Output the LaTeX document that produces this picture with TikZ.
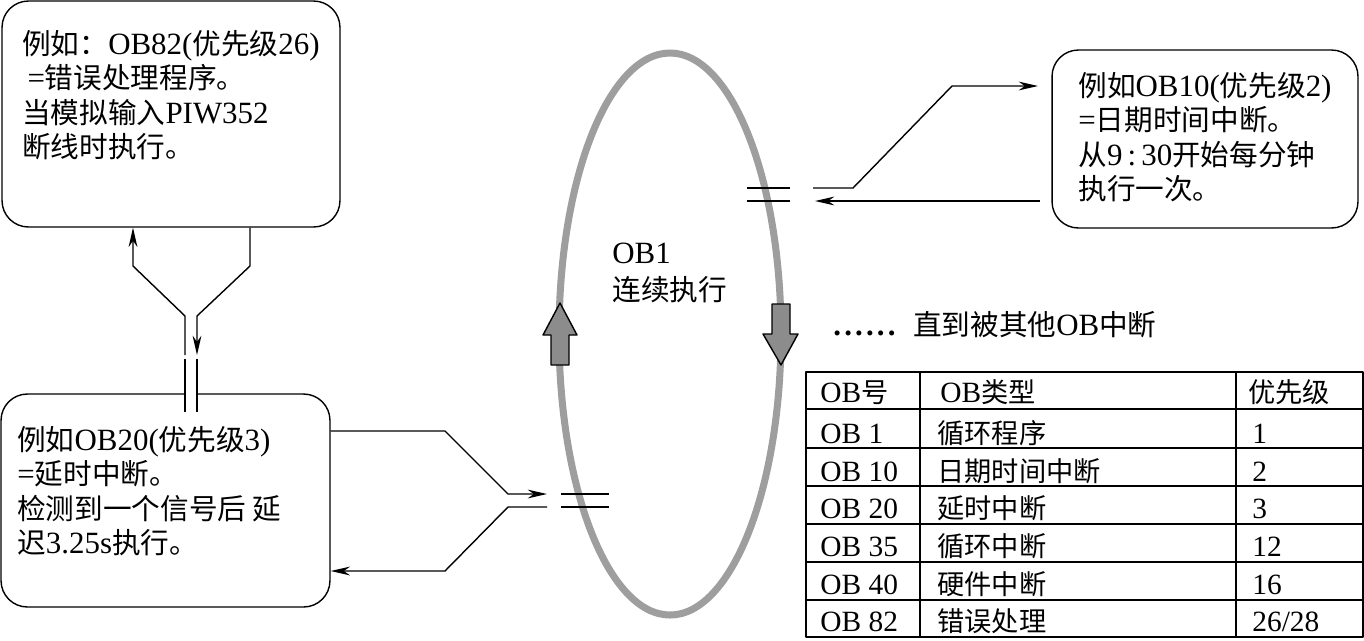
\documentclass[tikz,border=0pt]{standalone}
\usepackage{fontspec}
\setmainfont{Liberation Serif}[Scale=1.08]
\newfontfamily\cjk{Noto Sans CJK SC}
\usepackage{tikz}
\usetikzlibrary{calc, arrows.meta, positioning}
\definecolor{ringgray}{RGB}{158, 158, 158}
\definecolor{arrowgray}{RGB}{140, 140, 140}
\newcommand{\zh}[1]{{\cjk #1}}

\tikzset{
    obbox/.style={draw, line width=0.8pt, rounded corners=15pt, inner sep=0pt},
    obtext/.style={anchor=north west, inner sep=0pt, align=left, font=\fontsize{16.3pt}{19.6pt}\selectfont},
    lbl/.style={anchor=base west, inner sep=0pt, font=\fontsize{16.3pt}{19.6pt}\selectfont},
    tabtext/.style={anchor=base west, inner sep=0pt, font=\fontsize{15.5pt}{18pt}\selectfont},
    link/.style={line width=0.8pt}
}

\begin{document}
\begin{tikzpicture}[x=0.02cm, y=-0.02cm, line join=round, >={Stealth[length=11pt, width=5pt, inset=3.5pt]}]
    \useasboundingbox (0,0) rectangle (1364,640);

    % Ring OB1 (grau) mit den zwei Blockpfeilen
    \draw[ringgray, line width=4pt] (670,334) ellipse [x radius=111, y radius=281];
    \filldraw[fill=arrowgray, draw=black, line width=0.8pt]
        (560,303) -- (577,335) -- (569,335) -- (569,365) -- (551,365) -- (551,335) -- (543,335) -- cycle;
    \filldraw[fill=arrowgray, draw=black, line width=0.8pt]
        (781,365) -- (798,334) -- (790,334) -- (790,304) -- (772,304) -- (772,334) -- (763,334) -- cycle;
    \node[lbl] (obone) at (612,263) {OB1};
    \node[lbl] (oboneb) at (612,300) {\zh{连续执行}};
    \node[lbl] (until) at (833,335) {\textbf{.\kern1.8pt.\kern1.8pt.\kern1.8pt.\kern1.8pt.\kern1.8pt.}\hspace{10pt}\zh{直到被其他}OB\zh{中断}};

    % Kaesten
    \node[obbox, minimum width=6.76cm, minimum height=4.52cm] (ob82box) at (171,114) {};
    \node[obtext] (ob82txt) at (22,30) {\zh{例如：}OB82(\zh{优先级}26)\\\,=\zh{错误处理程序。}\\\zh{当模拟输入}PIW352\\\zh{断线时执行。}};

    \node[obbox, minimum width=6.58cm, minimum height=4.26cm] (ob20box) at (165.5,500.5) {};
    \node[obtext] (ob20txt) at (17,426) {\zh{例如}OB20(\zh{优先级}3)\\=\zh{延时中断。}\\\zh{检测到一个信号后 延}\\\zh{迟}3.25s\zh{执行。}};

    \node[obbox, minimum width=6.12cm, minimum height=3.56cm] (ob10box) at (1205,139) {};
    \node[obtext] (ob10txt) at (1078,72) {\zh{例如}OB10(\zh{优先级}2)\\=\zh{日期时间中断。}\\\zh{从}9\,:\,30\zh{开始每分钟}\\\zh{执行一次。}};

    % OB82 <-> OB20
    \coordinate (la) at (133,266);
    \coordinate (lb) at (185,316);
    \coordinate (lc) at (185,355);
    \coordinate (ra) at (250,266);
    \coordinate (rb) at (197,316);
    \coordinate (rc) at (197,355);
    \draw[link, ->] (lc) -- (lb) -- (la) -- (la |- ob82box.south);
    \draw[link, ->] (ra |- ob82box.south) -- (ra) -- (rb) -- (rc);
    \fill[white] (186,386) rectangle (196,402);
    \draw[link] (185,359) -- (185,412) (197,359) -- (197,412);

    % OB20 <-> OB1
    \coordinate (ba) at (445,431);
    \coordinate (bb) at (508,494);
    \coordinate (bc) at (547,494);
    \coordinate (bd) at (547,507);
    \coordinate (be) at (508,507);
    \coordinate (bf) at (445,571);
    \draw[link, ->] (ba -| ob20box.east) -- (ba) -- (bb) -- (bc);
    \draw[link, ->] (bd) -- (be) -- (bf) -- (bf -| ob20box.east);
    \draw[link] (561,494) -- (609,494) (561,507) -- (609,507);

    % OB1 <-> OB10
    \coordinate (ta) at (813,188);
    \coordinate (tb) at (853,188);
    \coordinate (tc) at (952,86);
    \coordinate (td) at (1038,86);
    \coordinate (te) at (1040,201);
    \coordinate (tf) at (815,201);
    \draw[link, ->] (ta) -- (tb) -- (tc) -- (td);
    \draw[link, ->] (te) -- (tf);
    \draw[link] (747,188) -- (790,188) (747,201) -- (790,201);

    % Tabelle
    \draw[line width=0.9pt] (806,372) rectangle (1363,637);
    \draw[line width=0.9pt] (920,372) -- (920,637) (1236,372) -- (1236,637);
    \foreach \y in {409,448,486,524,562,600}
        \draw[line width=0.9pt] (806,\y) -- (1363,\y);
    \node[tabtext] (hnum) at (820,402) {OB\zh{号}};
    \node[tabtext] (htyp) at (940,402) {OB\zh{类型}};
    \node[tabtext] (hpri) at (1248,402) {\zh{优先级}};
    \foreach \b/\ob/\typ/\pr [count=\i] in {443/OB 1/循环程序/1, 481/OB 10/日期时间中断/2,
        518/OB 20/延时中断/3, 556/OB 35/循环中断/12, 594/OB 40/硬件中断/16, 631/OB 82/错误处理/{26/28}} {
        \node[tabtext] (num\i) at (820,\b) {\ob};
        \node[tabtext] (typ\i) at (937,\b) {\zh{\typ}};
        \node[tabtext] (pri\i) at (1252,\b) {\pr};
    }
\end{tikzpicture}
\end{document}
